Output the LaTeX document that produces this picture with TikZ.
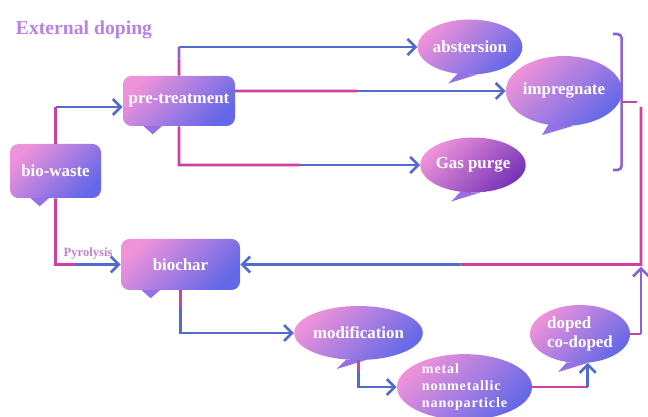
\documentclass[tikz,border=0pt]{standalone}
\usepackage{fontspec}
\setmainfont{Liberation Serif}
\usetikzlibrary{shapes,arrows.meta,positioning,calc,backgrounds}

\definecolor{pinkc}{RGB}{238,146,218}
\definecolor{bluec}{RGB}{100,104,232}
\definecolor{purpc}{RGB}{118,52,184}
\definecolor{violc}{RGB}{150,112,228}
\definecolor{magl}{RGB}{204,66,158}
\definecolor{bluel}{RGB}{82,108,206}
\definecolor{vioL}{RGB}{140,100,206}
\definecolor{titc}{RGB}{184,130,226}
\definecolor{pyroc}{RGB}{196,126,214}

\begin{document}
\begin{tikzpicture}
  % Estilos
  \tikzstyle{box}=[rectangle, rounded corners=6pt, top color=pinkc, bottom color=bluec, shading angle=45, text=white, font=\bfseries\fontsize{12}{14}\selectfont, align=center, minimum height=1.3cm]
  \tikzstyle{bubble}=[ellipse, inner sep=0pt, top color=pinkc, bottom color=bluec, shading angle=45, text=white, font=\bfseries\fontsize{12}{14}\selectfont, align=left]
  \tikzstyle{bubtail}=[fill=violc]
  \tikzstyle{pl}=[line width=1.9pt, magl]
  \tikzstyle{bl}=[line width=1.9pt, bluel]
  \tikzstyle{vl}=[line width=1.9pt, vioL]
  \tikzstyle{conn}=[-{Straight Barb[length=2mm,width=4mm]}]

  \useasboundingbox (0,0) rectangle (16.2,10.425);

  % Titulo
  \node[font=\bfseries\fontsize{14}{16}\selectfont, text=titc] (ttl) at (2.1,9.675) {External doping};

  % Cajas
  \node[box, minimum width=2.275cm, minimum height=1.35cm] (bw) at (1.3875,6.15) {bio-waste};
  \node[box, minimum width=2.8cm, minimum height=1.25cm] (pre) at (4.475,7.9) {pre-treatment};
  \node[box, minimum width=2.975cm, minimum height=1.275cm] (bc) at (4.5125,3.8125) {biochar};

  % Globos
  \node[bubble, minimum width=2.35cm, minimum height=1.375cm] (ab) at (11.75,9.25) {abstersion};
  \node[bubble, minimum width=2.45cm, minimum height=1.75cm] (im) at (14.1,8.15) {impregnate};
  \node[bubble, minimum width=2.45cm, minimum height=1.375cm, bottom color=purpc, shading angle=45] (gp) at (11.825,6.3) {Gas purge};
  \node[bubble, minimum width=2.575cm, minimum height=1.35cm] (md) at (8.9625,2.1) {modification};
  \node[bubble, minimum width=3.375cm, minimum height=1.55cm, font=\bfseries\fontsize{10}{12}\selectfont\addfontfeature{LetterSpace=6}] (mt) at (11.6125,0.75) {metal\\nonmetallic\\nanoparticle};
  \node[bubble, minimum width=2.5cm, minimum height=1.45cm] (dp) at (14.5,2.075) {doped\\co-doped};

  % Colas de los globos
  \begin{scope}[on background layer]
    \foreach \n in {bw,pre,bc}
      \fill[bubtail] ($(\n.south west)+(0.5,0.02)$) -- ($(\n.south west)+(0.75,-0.2)$) -- ($(\n.south west)+(1.0,0.02)$) -- cycle;
    \foreach \n in {ab,im,gp,md,mt,dp}
      \fill[bubtail] (\n.245) -- ($(\n.south)+(-0.55,-0.22)$) -- (\n.285) -- cycle;
  \end{scope}

  % bio-waste -> pre-treatment
  \coordinate (k1) at ($(bw.north |- pre.west)+(0,-0.15)$);
  \draw[pl] (bw.north) -- (k1);
  \draw[bl, conn] (k1) -- (k1 -| pre.west);

  % pre-treatment -> abstersion / impregnate / Gas purge
  \coordinate (k2) at (pre.north |- ab.west);
  \draw[bl, conn] (k2) -- (ab.west);
  \draw[pl] (pre.north) -- ($(pre.north)!0.6!(k2)$);
  \draw[vl] ($(pre.north)!0.6!(k2)$) -- (k2);

  \coordinate (k3) at (pre.east |- im.west);
  \draw[bl, conn] (k3) -- (im.west);
  \draw[pl] (k3) -- ($(k3)!0.45!(im.west)$);

  \coordinate (k4) at (pre.south |- gp.west);
  \draw[bl, conn] (k4) -- (gp.west);
  \draw[pl] (pre.south) -- (k4) -- ($(k4)!0.5!(gp.west)$);

  % Corchete
  \coordinate (brt) at (15.54,9.575);
  \coordinate (brb) at (15.54,6.175);
  \draw[vl, rounded corners=3pt] ($(brt)+(-0.22,0)$) -- (brt) -- (brb) -- ($(brb)+(-0.22,0)$);
  \draw[pl] ($(brt)!0.5!(brb)$) -- ++(0.38,0);

  % Retorno a biochar
  \coordinate (ret) at (16.025,7.75);
  \coordinate (rc) at (ret |- bc.east);
  \draw[bl, conn] ($(rc)!0.45!(bc.east)$) -- (bc.east);
  \draw[pl] (ret) -- (rc) -- ($(rc)!0.45!(bc.east)$);

  % bio-waste -> biochar
  \coordinate (k5) at (bw.south |- bc.west);
  \draw[bl, conn] (k5) -- (bc.west);
  \draw[pl] (bw.south) -- (k5) -- ($(k5)!0.3!(bc.west)$);
  \node[above, font=\bfseries\fontsize{9}{11}\selectfont, text=pyroc] (pyr) at ($(k5)!0.5!(bc.west)$) {Pyrolysis};

  % biochar -> modification -> metal -> doped
  \coordinate (k6) at (bc.south |- md.west);
  \draw[bl, conn] (bc.south) -- (k6) -- (md.west);
  \draw[pl] (bc.south) -- ($(bc.south)!0.4!(k6)$);

  \coordinate (k7) at (md.south |- mt.west);
  \draw[bl, conn] (md.south) -- (k7) -- (mt.west);
  \draw[pl] (md.south) -- ($(md.south)!0.4!(k7)$);

  \coordinate (k8) at (mt.east -| dp.-75);
  \draw[pl] (mt.east) -- (k8);
  \draw[bl, conn] (k8) -- (dp.-75);

  % doped -> retorno
  \coordinate (k9) at (dp.east -| ret);
  \draw[pl] (dp.east) -- (k9);
  \draw[vl, conn] (k9) -- ([yshift=-1.5pt]rc);
\end{tikzpicture}
\end{document}
